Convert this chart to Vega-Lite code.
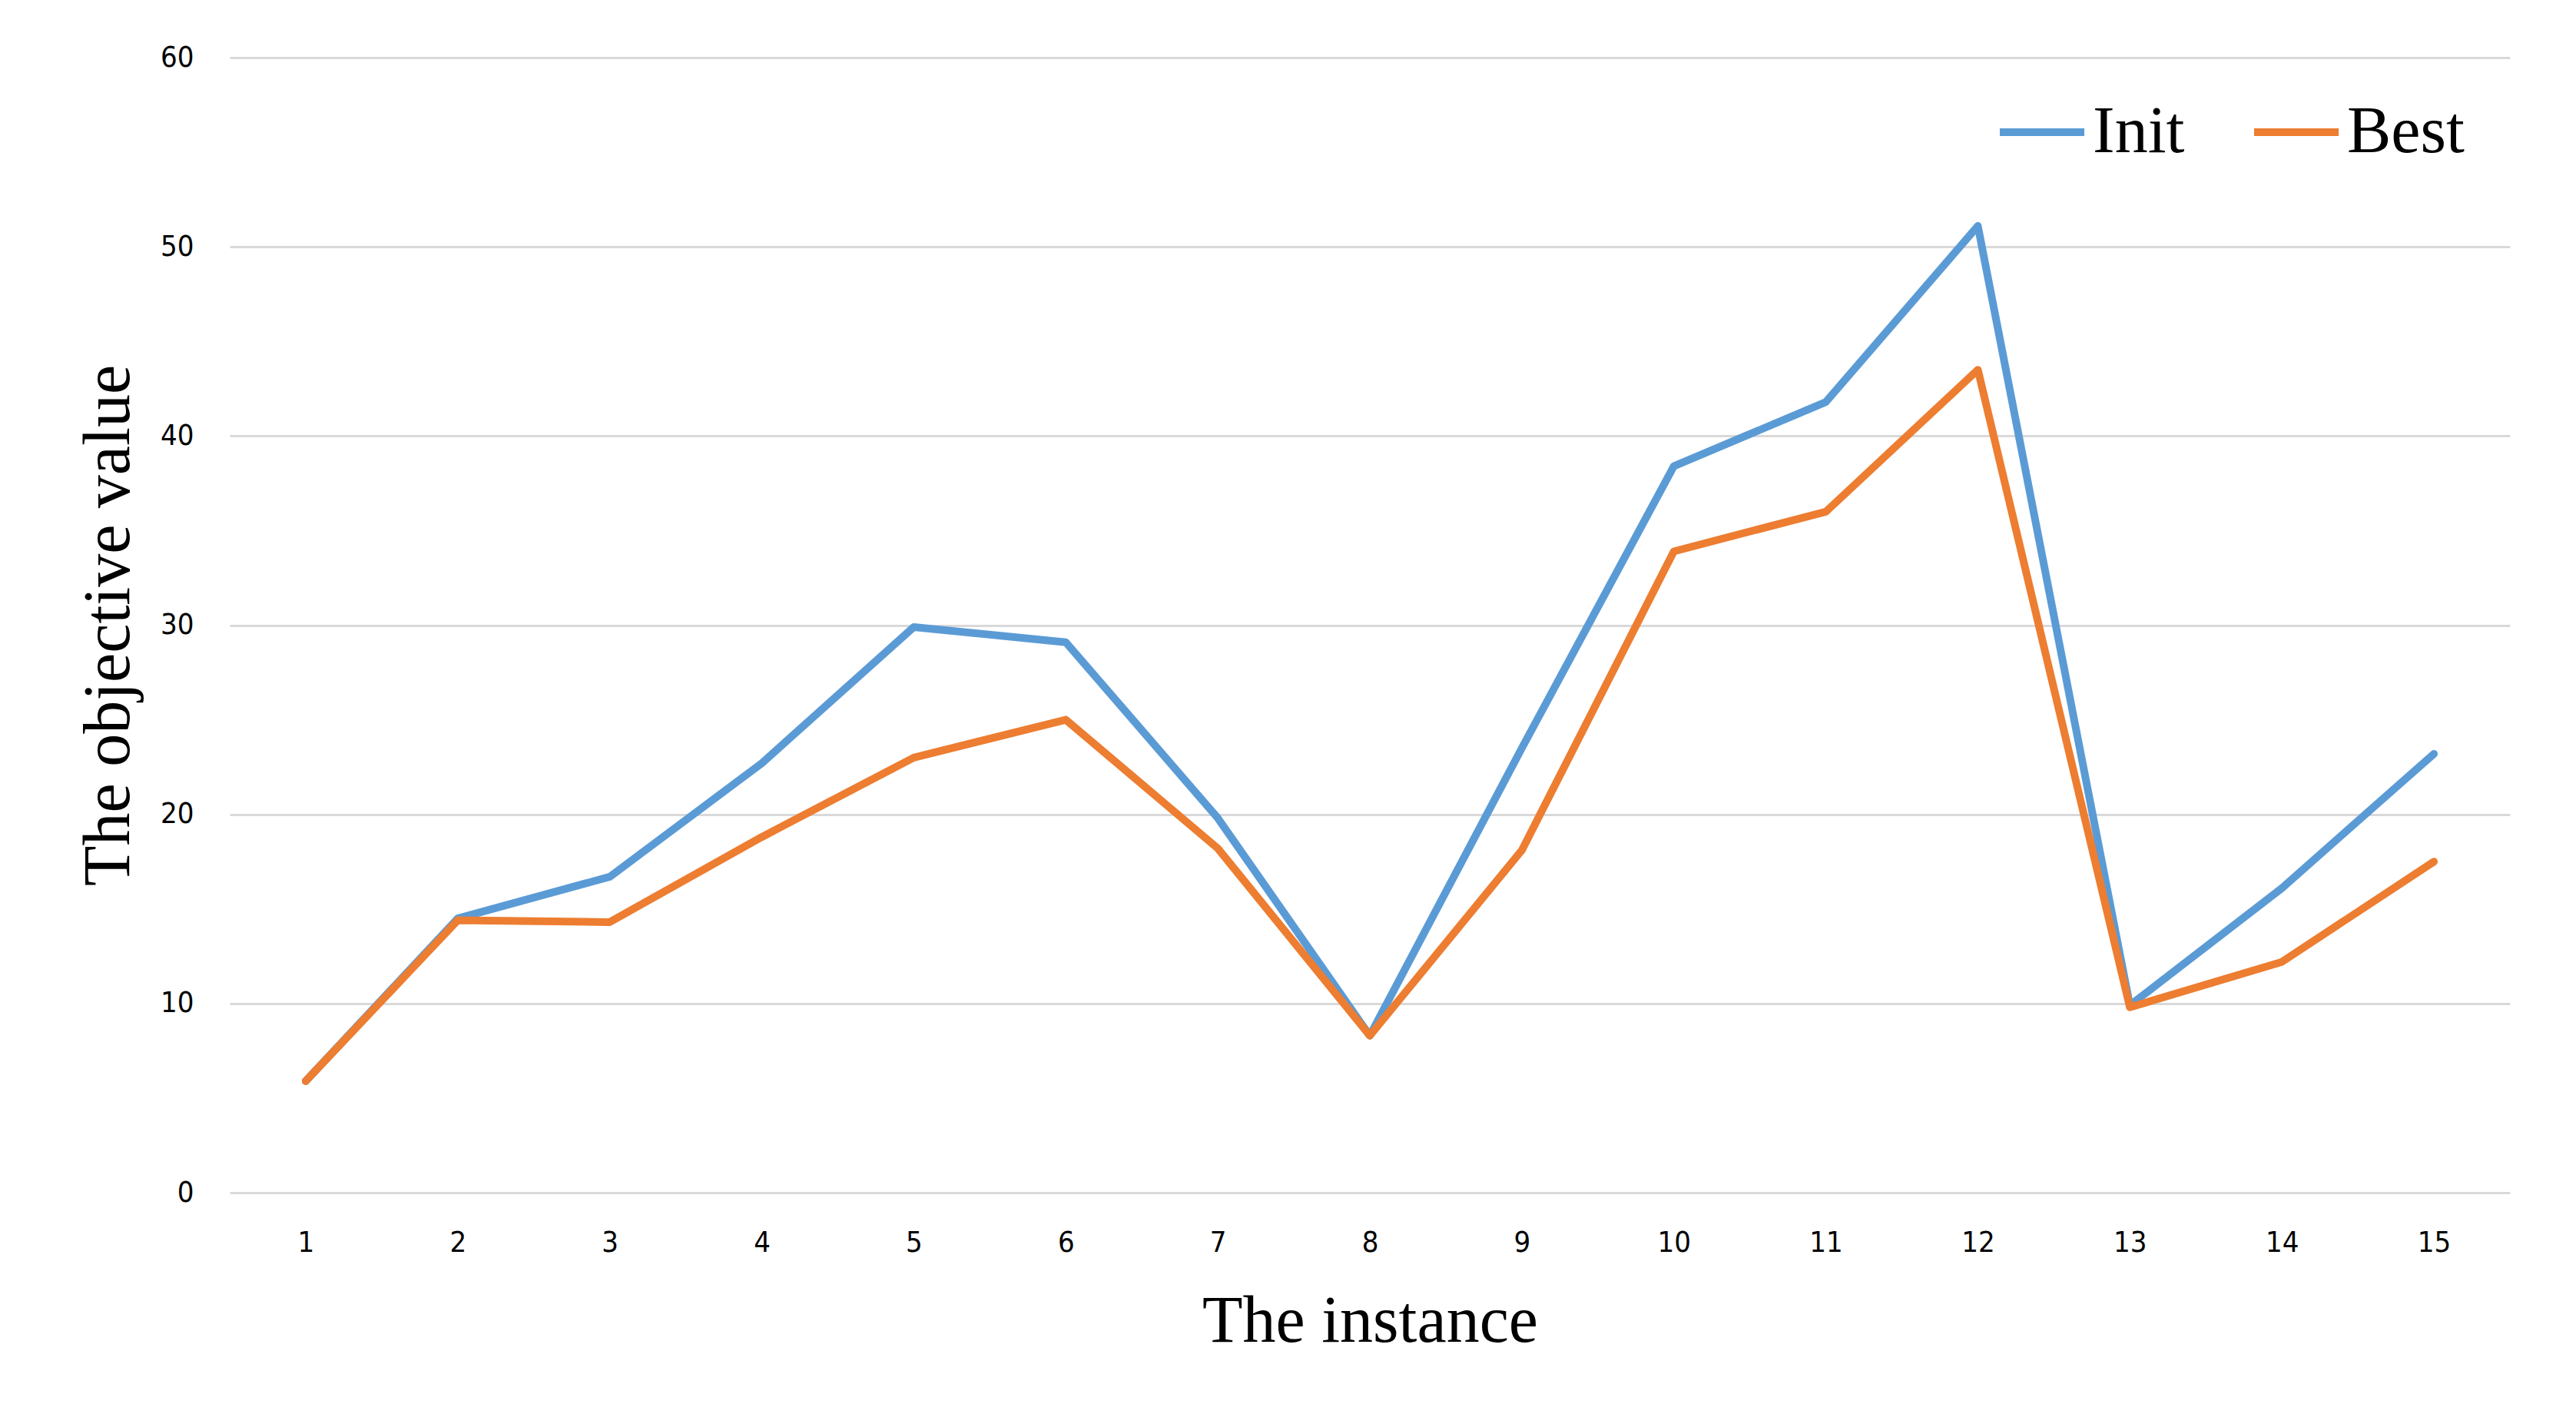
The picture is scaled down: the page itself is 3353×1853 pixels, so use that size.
{
  "$schema": "https://vega.github.io/schema/vega-lite/v6.json",
  "width": 2968,
  "height": 1477,
  "autosize": {"type": "none"},
  "padding": {"left": 299, "top": 75, "right": 86, "bottom": 301},
  "background": "white",
  "config": {
    "view": {"stroke": null},
    "axis": {"domain": false, "ticks": false}
  },
  "data": {
    "values": [
      {"instance": 1, "series": "Init", "value": 5.9},
      {"instance": 2, "series": "Init", "value": 14.5},
      {"instance": 3, "series": "Init", "value": 16.7},
      {"instance": 4, "series": "Init", "value": 22.7},
      {"instance": 5, "series": "Init", "value": 29.9},
      {"instance": 6, "series": "Init", "value": 29.1},
      {"instance": 7, "series": "Init", "value": 19.8},
      {"instance": 8, "series": "Init", "value": 8.3},
      {"instance": 9, "series": "Init", "value": 23.5},
      {"instance": 10, "series": "Init", "value": 38.4},
      {"instance": 11, "series": "Init", "value": 41.8},
      {"instance": 12, "series": "Init", "value": 51.1},
      {"instance": 13, "series": "Init", "value": 9.9},
      {"instance": 14, "series": "Init", "value": 16.1},
      {"instance": 15, "series": "Init", "value": 23.2},
      {"instance": 1, "series": "Best", "value": 5.9},
      {"instance": 2, "series": "Best", "value": 14.4},
      {"instance": 3, "series": "Best", "value": 14.3},
      {"instance": 4, "series": "Best", "value": 18.8},
      {"instance": 5, "series": "Best", "value": 23.0},
      {"instance": 6, "series": "Best", "value": 25.0},
      {"instance": 7, "series": "Best", "value": 18.2},
      {"instance": 8, "series": "Best", "value": 8.3},
      {"instance": 9, "series": "Best", "value": 18.1},
      {"instance": 10, "series": "Best", "value": 33.9},
      {"instance": 11, "series": "Best", "value": 36.0},
      {"instance": 12, "series": "Best", "value": 43.5},
      {"instance": 13, "series": "Best", "value": 9.8},
      {"instance": 14, "series": "Best", "value": 12.2},
      {"instance": 15, "series": "Best", "value": 17.5}
    ]
  },
  "encoding": {
    "x": {
      "field": "instance",
      "type": "ordinal",
      "scale": {"type": "point", "padding": 0.5},
      "axis": {
        "title": "The instance",
        "labelAngle": 0,
        "labelFont": "DejaVu Sans Condensed, Liberation Sans Narrow, Roboto, sans-serif",
        "labelFontSize": 38,
        "labelColor": "#000000",
        "labelPadding": 46,
        "grid": false,
        "titleFont": "Liberation Serif",
        "titleFontSize": 86,
        "titleFontWeight": "normal",
        "titleColor": "#000000",
        "titleBaseline": "alphabetic",
        "titleY": 193
      }
    },
    "y": {
      "field": "value",
      "type": "quantitative",
      "scale": {"domain": [0, 60], "nice": false},
      "axis": {
        "title": "The objective value",
        "values": [0, 10, 20, 30, 40, 50, 60],
        "labelFont": "DejaVu Sans Condensed, Liberation Sans Narrow, Roboto, sans-serif",
        "labelFontSize": 38,
        "labelColor": "#000000",
        "labelPadding": 47,
        "grid": true,
        "gridColor": "#d9d9d9",
        "gridWidth": 3,
        "titleFont": "Liberation Serif",
        "titleFontSize": 86,
        "titleFontWeight": "normal",
        "titleColor": "#000000",
        "titleBaseline": "alphabetic",
        "titleX": -132
      }
    },
    "color": {
      "field": "series",
      "type": "nominal",
      "scale": {"domain": ["Init", "Best"], "range": ["#5B9BD5", "#ED7D31"]},
      "legend": {
        "title": null,
        "orient": "none",
        "direction": "horizontal",
        "legendX": 2299,
        "legendY": 37,
        "symbolType": "stroke",
        "symbolSize": 12100,
        "symbolStrokeWidth": 10,
        "labelFont": "Liberation Serif",
        "labelFontSize": 86,
        "labelColor": "#000000",
        "labelOffset": 6,
        "columnPadding": 70
      }
    }
  },
  "layer": [
    {
      "transform": [{"filter": "datum.series === 'Init'"}],
      "mark": {"type": "line", "strokeWidth": 10, "strokeCap": "round", "strokeJoin": "round"}
    },
    {
      "transform": [{"filter": "datum.series === 'Best'"}],
      "mark": {"type": "line", "strokeWidth": 10, "strokeCap": "round", "strokeJoin": "round"}
    }
  ]
}
